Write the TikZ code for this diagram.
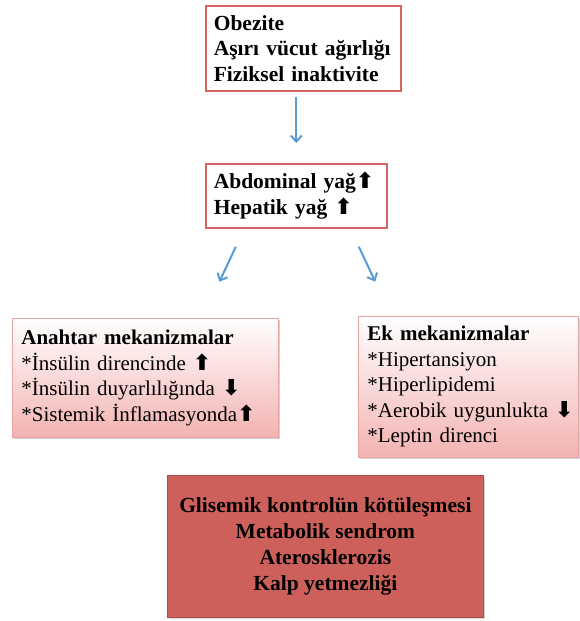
\documentclass[tikz,border=0pt]{standalone}
\usepackage{fontspec}
\setmainfont{Liberation Serif}
\newfontfamily\symfont{DejaVu Sans}
\usetikzlibrary{arrows.meta}
\usetikzlibrary{positioning}
\usetikzlibrary{shadows}
\definecolor{boxred}{HTML}{D46563}
\definecolor{paleedge}{HTML}{E9A3A1}
\definecolor{rosefill}{HTML}{F2B3B1}
\definecolor{brickfill}{HTML}{CD605B}
\definecolor{brickedge}{HTML}{A8504C}
\definecolor{flowblue}{HTML}{5B9BD5}
\newcommand{\incr}{{\symfont\bfseries\fontsize{22}{22}\selectfont ⬆}}
\newcommand{\decr}{{\symfont\bfseries\fontsize{22}{22}\selectfont ⬇}}

\begin{document}
\begin{tikzpicture}[
        x=1pt, y=-1pt,
        plainbox/.style={rectangle, draw=boxred, line width=1.6pt, fill=white,
          align=left, inner xsep=8pt, anchor=north west,
          font=\fontsize{21.5}{25.5}\selectfont\bfseries},
        mechbox/.style={rectangle, draw=paleedge, line width=0.8pt,
          top color=white, bottom color=rosefill,
          drop shadow={opacity=0.35, shadow xshift=2pt, shadow yshift=-2pt},
          align=left, inner xsep=9pt, anchor=north west,
          font=\fontsize{21}{25.5}\selectfont},
        outbox/.style={rectangle, draw=brickedge, line width=0.8pt, fill=brickfill,
          drop shadow={opacity=0.3, shadow xshift=2pt, shadow yshift=-2pt},
          align=center, anchor=north west,
          font=\fontsize{21.5}{26}\selectfont\bfseries},
        flow/.style={-{Straight Barb[length=6pt, width=11pt]}, line width=2pt,
          draw=flowblue},
      ]
        \useasboundingbox (0,0) rectangle (579,621);

        \node[plainbox, minimum width=195, minimum height=85, text width=179]
          (cause) at (205,5) {Obezite\\Aşırı vücut ağırlığı\\Fiziksel inaktivite};
        \node[plainbox, minimum width=181, minimum height=64, text width=165]
          (fat) at (205,163) {Abdominal yağ\incr\\Hepatik yağ \incr};
        \node[mechbox, minimum width=266, minimum height=119, text width=248]
          (mechA) at (12,318) {\textbf{Anahtar mekanizmalar}\\{*}İnsülin direncinde \incr\\
          {*}İnsülin duyarlılığında \decr\\{*}Sistemik İnflamasyonda\incr};
        \node[mechbox, minimum width=220, minimum height=141, text width=202]
          (mechB) at (358,316) {\textbf{Ek mekanizmalar}\\{*}Hipertansiyon\\{*}Hiperlipidemi\\
          {*}Aerobik uygunlukta\rlap{ \decr}\\{*}Leptin direnci};
        \node[outbox, minimum width=316, minimum height=142]
          (result) at (167,475) {Glisemik kontrolün kötüleşmesi\\Metabolik sendrom\\
          Aterosklerozis\\Kalp yetmezliği};

        \draw[flow, shorten <=5pt, shorten >=20pt] (fat.north |- cause.south) -- (fat.north);
        \draw[flow, shorten <=20pt, shorten >=40pt] ([xshift=-52]fat.south) -- ([xshift=57]mechA.north);
        \draw[flow, shorten <=20pt, shorten >=38pt] ([xshift=54]fat.south) -- ([xshift=-77]mechB.north);
      \end{tikzpicture}
\end{document}
